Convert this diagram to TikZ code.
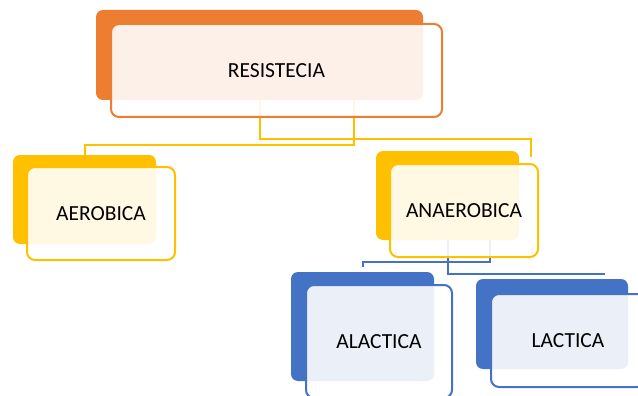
\documentclass[tikz,border=0pt]{standalone}
\usepackage{fontspec}
\setmainfont{Carlito}
\definecolor{corange}{HTML}{ED7D31}
\definecolor{cyellow}{HTML}{FFC000}
\definecolor{cblue}{HTML}{4472C4}
\tikzset{
  backbox/.style={fill=#1, draw=none, rounded corners=7pt, inner sep=0pt, outer sep=0pt},
  frontbox/.style={draw=#1, line width=2pt, fill=white, fill opacity=0.89, text opacity=1,
    rounded corners=8pt, inner sep=0pt, outer sep=0pt, font=\fontsize{21.5}{25}\selectfont},
  conn/.style={draw=#1, line width=2pt},
}
\begin{document}
\begin{tikzpicture}[x=1pt,y=-1pt]
\useasboundingbox (0,0) rectangle (638,396);
\clip (0,0) rectangle (638,396);
% back boxes
\node[backbox=corange, minimum width=327pt, minimum height=90pt] (resb) at (259.5,55) {};
\node[backbox=cyellow, minimum width=143pt, minimum height=89pt] (aerb) at (84.5,199.5) {};
\node[backbox=cyellow, minimum width=143pt, minimum height=89pt] (anab) at (447.5,195.5) {};
\node[backbox=cblue, minimum width=143pt, minimum height=109pt] (alab) at (362.5,326.5) {};
\node[backbox=cblue, minimum width=152pt, minimum height=90pt] (lacb) at (552,324) {};
% connector free ends
\coordinate (anaend) at (531,157);
\coordinate (aerend) at (84.5,155.5);
\coordinate (alaend) at (362.5,267);
\coordinate (lacend) at (605,274);
% connectors
\draw[conn=cyellow] (resb.south) -- ++(0,39) -| (anaend);
\draw[conn=cyellow] ([xshift=94.5pt]resb.south) -- ++(0,45) -| (aerend);
\draw[conn=cblue] ([xshift=42pt]anab.south) -- ++(0,22) -| (alaend);
\draw[conn=cblue] (anab.south) |- (lacend);
% front boxes
\node[frontbox=corange, minimum width=331pt, minimum height=93pt] (resf) at (276.5,70.5) {RESISTECIA};
\node[frontbox=cyellow, minimum width=148pt, minimum height=93pt] (aerf) at (101,213.5) {AEROBICA};
\node[frontbox=cyellow, minimum width=148pt, minimum height=93pt] (anaf) at (464,210.5) {ANAEROBICA};
\node[frontbox=cblue, minimum width=146pt, minimum height=113pt] (alaf) at (379,341.5) {ALACTICA};
\node[frontbox=cblue, minimum width=154pt, minimum height=93pt] (lacf) at (568,340.5) {LACTICA};
\end{tikzpicture}
\end{document}
